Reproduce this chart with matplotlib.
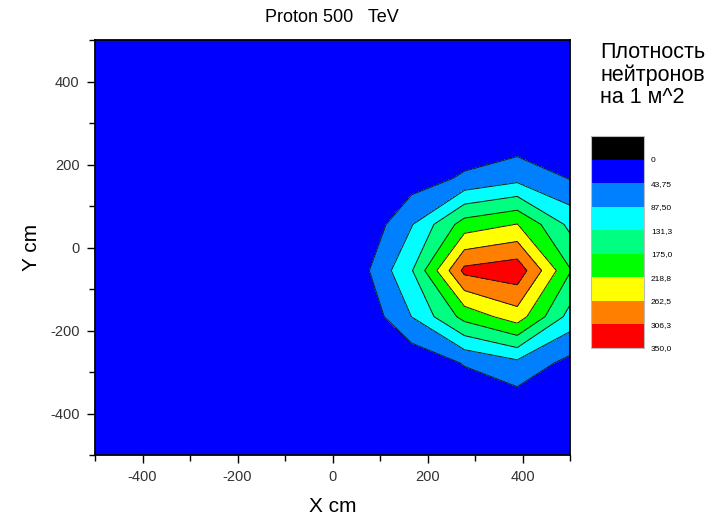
import numpy as np
import matplotlib.pyplot as plt
from matplotlib.colors import ListedColormap, BoundaryNorm
from matplotlib.cm import ScalarMappable
from matplotlib.ticker import MultipleLocator

plt.rcParams['font.family'] = ['Liberation Sans', 'DejaVu Sans']
plt.rcParams['axes.unicode_minus'] = False

# grid nodes (cm)
x_nodes = np.linspace(-500, 500, 10)
y_nodes = np.linspace(-500, 500, 10)

# neutron density at grid nodes, rows from y=-500 up to y=500
z_rows = [
    [0, 0, 0, 0, 0, 0, 0, 0, 0, 0],
    [0, 0, 0, 0, 0, 0, 0, 5, 13, 5],
    [0, 0, 0, 0, 0, 0, 11, 47, 77, 30],
    [0, 0, 0, 0, 0, 3, 88, 190, 242, 115],
    [0, 0, 0, 0, 0, 23, 128, 318, 335, 178],
    [0, 0, 0, 0, 0, 0, 85, 195, 220, 120],
    [0, 0, 0, 0, 0, 0, 21, 50, 74, 42],
    [0, 0, 0, 0, 0, 0, 0, 10, 10, 5],
    [0, 0, 0, 0, 0, 0, 0, 0, 2, 0],
    [0, 0, 0, 0, 0, 0, 0, 0, 0, 0],
]
z = np.array(z_rows, dtype=float)

levels = [0, 43.75, 87.5, 131.25, 175, 218.75, 262.5, 306.25, 350]
level_labels = ['0', '43,75', '87,50', '131,3', '175,0', '218,8', '262,5', '306,3', '350,0']
colors = ['#0000ff', '#0080ff', '#00ffff', '#00ff80', '#00ff00',
          '#ffff00', '#ff8000', '#ff0000']

fig = plt.figure(figsize=(7.14, 5.18), dpi=100)
ax = fig.add_axes([95/714, 63/518, 475/714, 415/518])

ax.contourf(x_nodes, y_nodes, z, levels=levels, colors=colors)
ax.contour(x_nodes, y_nodes, z, levels=levels[1:-1], colors='#1a1a1a', linewidths=0.7)

ax.set_xlim(-500, 500)
ax.set_ylim(-500, 500)
ax.set_xticks([-400, -200, 0, 200, 400])
ax.set_yticks([-400, -200, 0, 200, 400])
ax.xaxis.set_minor_locator(MultipleLocator(100))
ax.yaxis.set_minor_locator(MultipleLocator(100))
ax.tick_params(which='major', length=6, width=1, colors='black', labelcolor='#333333',
               labelsize=10.5, pad=5)
ax.tick_params(which='minor', length=4, width=1)
for s in ax.spines.values():
    s.set_linewidth(1.3)

ax.set_xlabel('X cm', fontsize=15, labelpad=9)
ax.set_ylabel('Y cm', fontsize=15, labelpad=7)
fig.text(332/714, 1 - 18/518, 'Proton 500   TeV', ha='center', va='center', fontsize=13)

# legend box
cax = fig.add_axes([591/714, 170/518, 53/714, 212/518])
bounds = [-43.75] + levels
sm = ScalarMappable(norm=BoundaryNorm(bounds, 9), cmap=ListedColormap(['#000000'] + colors))
cb = fig.colorbar(sm, cax=cax, ticks=levels)
cax.invert_yaxis()
cax.minorticks_off()
cb.set_ticklabels(level_labels)
cax.tick_params(length=0, labelsize=6, pad=5)
cb.outline.set_edgecolor('#bbbbbb')
cb.outline.set_linewidth(0.8)

fig.text(600/714, 1 - 42/518, 'Плотность\nнейтронов\nна 1 м^2', ha='left', va='top',
         fontsize=15.5, linespacing=1.08)

fig.savefig('out.png', dpi=100)
